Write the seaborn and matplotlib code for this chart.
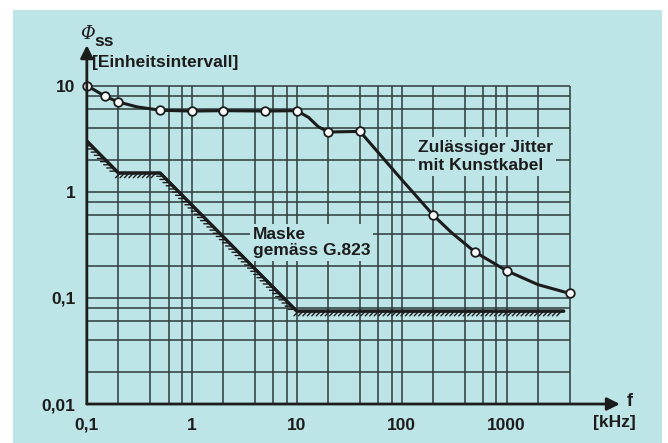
import numpy as np
import pandas as pd
import matplotlib
matplotlib.use('Agg')
import matplotlib.pyplot as plt
import matplotlib.patheffects as pe
from matplotlib.patches import Rectangle
import seaborn as sns

# jitter curve (marked points) in kHz / UI
jit_f = [0.1, 0.15, 0.2, 0.5, 1, 2, 5, 10, 20, 40, 200, 500, 1000, 4000]
jit_v = [10, 7.9, 7.0, 5.85, 5.75, 5.8, 5.75, 5.8, 3.65, 3.7, 0.6, 0.27, 0.18, 0.11]
# extra points (no markers)
curve_f = [0.1, 0.15, 0.2, 0.3, 0.5, 1, 2, 5, 10, 13, 16, 20, 40, 100, 200, 300, 500, 1000, 2000, 4000]
curve_v = [10, 7.9, 7.0, 6.3, 5.85, 5.75, 5.8, 5.75, 5.8, 5.0, 4.1, 3.65, 3.7, 1.3, 0.6, 0.41, 0.27, 0.18, 0.133, 0.11]

# G.823 mask
mask_f = [0.1, 0.2, 0.5, 10, 3500]
mask_v = [3.0, 1.5, 1.5, 0.075, 0.075]

x_grid = [0.1, 0.2, 0.4, 0.6, 0.8, 1, 2, 4, 6, 8, 10, 20, 40, 60, 80, 100,
          200, 400, 600, 800, 1000, 2000, 4000]
y_grid = [0.01, 0.02, 0.04, 0.06, 0.08, 0.1, 0.2, 0.4, 0.6, 0.8, 1, 2, 4, 6, 8, 10]
x_labels = {0.1: '0,1', 1: '1', 10: '10', 100: '100', 1000: '1000'}
y_labels = {0.01: '0,01', 0.1: '0,1', 1: '1', 10: '10'}

BG = '#bde4e6'
INK = '#1c1c1c'
GRID = '#2e3b3c'

sns.set_style('white')
plt.rcParams['font.family'] = ['Liberation Sans', 'DejaVu Sans']
plt.rcParams['font.weight'] = 'bold'

fig = plt.figure(figsize=(6.68, 4.43), dpi=100)
fig.patches.append(Rectangle((13 / 668, 0), (662 - 13) / 668, (443 - 10) / 443,
                             transform=fig.transFigure, facecolor=BG,
                             edgecolor='none', zorder=-10))

ax = fig.add_axes([0.130, 0.088, 0.798, 0.81])
ax.set_facecolor('none')
ax.set_xscale('log')
ax.set_yscale('log')
ax.set_xlim(0.1, 12000)
ax.set_ylim(0.01, 24)

# grid
ax.vlines(x_grid, 0.01, 10, color=GRID, lw=1.1, zorder=1)
ax.hlines(y_grid, 0.1, 4000, color=GRID, lw=1.1, zorder=1)

# ticks
ax.xaxis.set_minor_locator(matplotlib.ticker.NullLocator())
ax.yaxis.set_minor_locator(matplotlib.ticker.NullLocator())
ax.set_xticks(x_grid)
ax.set_xticklabels([x_labels.get(v, '') for v in x_grid])
ax.set_yticks(y_grid)
ax.set_yticklabels([y_labels.get(v, '') for v in y_grid])
ax.tick_params(axis='both', direction='out', length=5, width=1.4, color=INK,
               labelsize=12.5, labelcolor=INK, pad=3)
ax.tick_params(axis='x', pad=5)

for s in ['top', 'right', 'left', 'bottom']:
    ax.spines[s].set_visible(False)

# axis arrows
ax.annotate('', xy=(0, 1), xytext=(0, 0), xycoords='axes fraction',
            arrowprops=dict(arrowstyle='-|>', lw=2, color=INK, mutation_scale=19,
                            shrinkA=0, shrinkB=0), zorder=5)
ax.annotate('', xy=(1, 0), xytext=(0, 0), xycoords='axes fraction',
            arrowprops=dict(arrowstyle='-|>', lw=2, color=INK, mutation_scale=19,
                            shrinkA=0, shrinkB=0), zorder=5)

# mask
mask_df = pd.DataFrame({'f': mask_f, 'v': mask_v})
sns.lineplot(data=mask_df, x='f', y='v', ax=ax, color=INK, lw=2.2, sort=False,
             zorder=3)
ax.lines[-1].set_path_effects([
    pe.withTickedStroke(angle=-135, spacing=3.2, length=1.5, linewidth=1.0),
    pe.Normal()])

# jitter curve
curve_df = pd.DataFrame({'f': curve_f, 'v': curve_v})
sns.lineplot(data=curve_df, x='f', y='v', ax=ax, color=INK, lw=2.2, sort=False,
             zorder=3)
jit_df = pd.DataFrame({'f': jit_f, 'v': jit_v})
sns.scatterplot(data=jit_df, x='f', y='v', ax=ax, s=38, color='white',
                edgecolor=INK, linewidth=1.3, zorder=4, clip_on=False)
ax.set_xlabel('')
ax.set_ylabel('')

# labels
box = dict(facecolor=BG, edgecolor='none', pad=2)
ax.text(3.8, 0.47, 'Maske\ngemäss G.823', ha='left', va='top', fontsize=12.5,
        color=INK, linespacing=1.15, bbox=box, zorder=2)
ax.text(143, 3.1, 'Zulässiger Jitter\nmit Kunstkabel', ha='left', va='top',
        fontsize=12.5, color=INK, linespacing=1.3, bbox=box, zorder=2)

W, H = 668, 443
fig.text(80 / W, 1 - 34 / H, 'Φ', fontsize=13, style='italic', fontweight='normal',
         family='DejaVu Serif', color=INK, va='center', ha='left')
fig.text(94 / W, 1 - 41 / H, 'ss', fontsize=12.5, color=INK, va='center', ha='left')
fig.text(92 / W, 1 - 62 / H, '[Einheitsintervall]', fontsize=12.5, color=INK,
         va='center', ha='left')
fig.text(627 / W, 1 - 401 / H, 'f', fontsize=13, color=INK, va='center', ha='left')
fig.text(614 / W, 1 - 423 / H, '[kHz]', fontsize=12.5, color=INK, va='center',
         ha='center')

fig.savefig('out.png', dpi=100, facecolor='white')
